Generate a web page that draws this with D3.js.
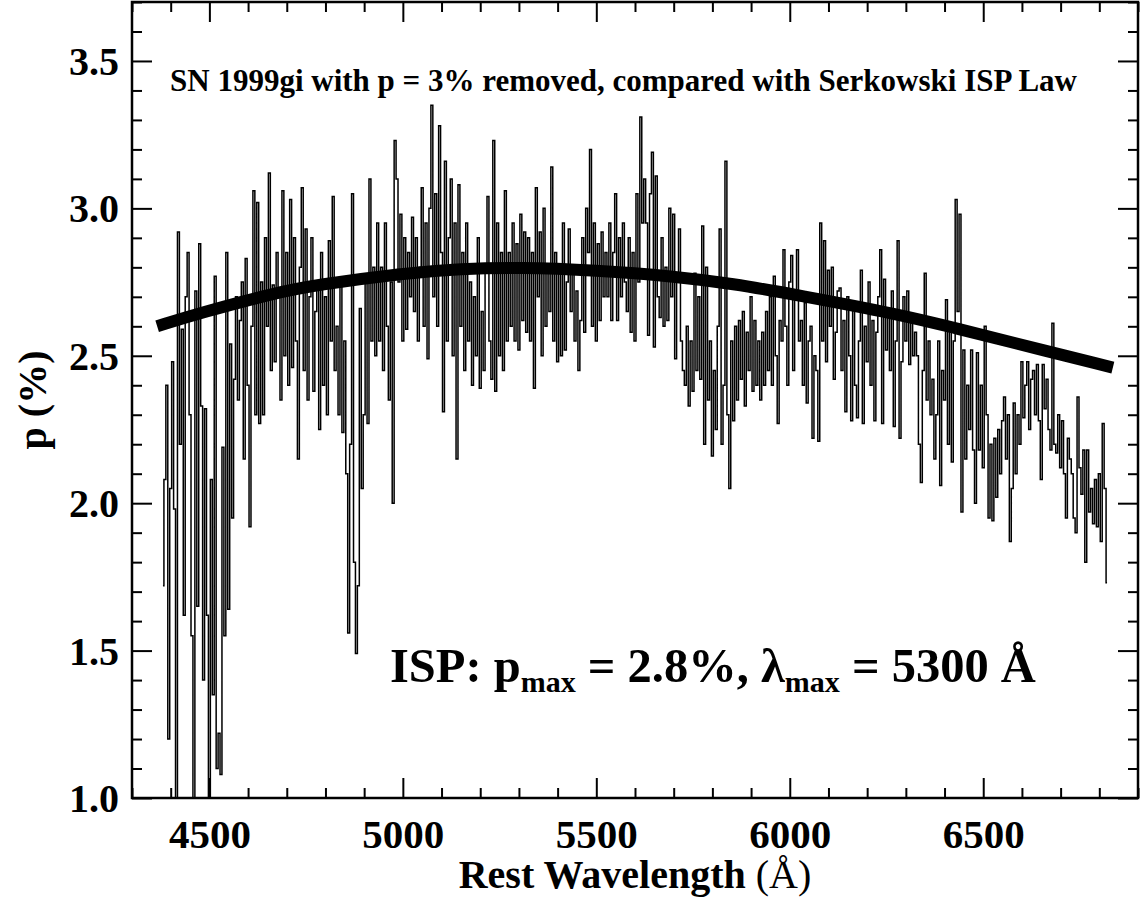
<!DOCTYPE html>
<html>
<head>
<meta charset="utf-8">
<script src="https://cdn.jsdelivr.net/npm/d3@7"></script>
<style>
  body { margin: 0; background: #fff; }
  svg text { font-family: "Liberation Serif", "Times New Roman", serif; font-weight: bold; fill: #000; }
</style>
</head>
<body>
<div id="chart"></div>
<script>
// polarization spectrum, 5 A bins (values < 1 are clipped)
var waveStart = 4380, waveStep = 5;
var polA = [ // 4380 - 4875
  1.72, 2.08, 2.40, 1.20, 2.05, 2.48, 1.98, 0.85, 2.92, 2.20,
  2.59, 1.62, 2.70, 2.85, 2.30, 1.55, 0.90, 2.72, 1.65, 2.88,
  2.33, 1.40, 2.32, 1.62, 0.92, 2.08, 1.35, 2.77, 1.10, 1.22,
  1.08, 2.19, 1.55, 2.85, 1.64, 2.54, 1.95, 2.42, 2.70, 2.35,
  2.62, 2.75, 2.15, 2.83, 2.40, 1.92, 2.60, 3.06, 2.30, 3.02,
  2.27, 2.75, 2.30, 2.90, 2.60, 3.12, 2.45, 2.74, 2.48, 2.85,
  2.70, 2.35, 3.06, 2.50, 2.85, 2.40, 3.03, 2.46, 2.90, 2.55,
  2.15, 2.80, 3.07, 2.45, 2.93, 2.35, 2.70, 2.90, 2.38, 2.65,
  2.75, 2.25, 2.85, 2.40, 2.70, 2.30, 2.89, 2.55, 3.04, 2.45,
  2.60, 2.30, 2.75, 2.24, 2.55, 2.10, 1.56, 2.20, 3.05, 1.80
];
var polB = [ // 4880 - 5375
  1.49, 1.72, 2.66, 2.05, 2.30, 2.75, 2.27, 3.10, 2.55, 2.80,
  2.50, 2.95, 2.55, 2.80, 2.45, 2.95, 2.60, 2.35, 2.75, 2.00,
  3.23, 3.10, 2.75, 2.98, 2.55, 2.90, 2.59, 2.85, 2.70, 2.97,
  2.65, 2.90, 2.55, 2.80, 3.07, 2.60, 2.95, 2.49, 3.00, 3.35,
  2.70, 3.05, 2.60, 3.28, 2.85, 2.31, 3.16, 2.55, 2.90, 3.10,
  2.50, 2.95, 2.15, 3.08, 2.60, 2.85, 2.45, 2.95, 2.55, 2.75,
  2.40, 2.70, 2.50, 2.90, 2.39, 2.65, 2.45, 2.80, 3.04, 2.55,
  2.42, 3.23, 2.38, 2.95, 2.50, 2.85, 2.45, 3.06, 2.55, 2.85,
  2.60, 2.95, 2.55, 2.88, 2.52, 2.98, 2.62, 2.92, 2.58, 2.90,
  2.55, 2.85, 2.39, 3.07, 2.70, 2.92, 2.50, 3.00, 2.60, 2.80
];
var polC = [ // 5380 - 5875
  2.65, 3.14, 2.55, 2.85, 2.48, 2.80, 2.50, 2.95, 2.52, 2.75,
  2.93, 2.65, 2.80, 2.55, 2.72, 2.45, 2.62, 2.90, 2.58, 3.00,
  2.85, 3.20, 2.60, 2.95, 2.55, 2.88, 2.62, 2.92, 2.70, 2.85,
  2.70, 2.95, 2.62, 2.85, 3.05, 2.62, 2.90, 2.70, 2.95, 2.75,
  2.65, 2.90, 2.58, 2.85, 2.55, 3.05, 2.75, 3.31, 2.95, 3.10,
  2.95, 2.57, 3.05, 3.19, 2.53, 3.11, 2.70, 2.63, 2.90, 2.60,
  2.80, 2.62, 3.00, 2.70, 2.98, 2.49, 2.75, 2.93, 2.55, 2.45,
  2.40, 2.60, 2.33, 2.55, 2.38, 2.78, 2.45, 2.70, 2.42, 2.94,
  2.20, 2.80, 2.35, 2.55, 2.16, 2.45, 2.25, 2.60, 2.93, 2.20,
  2.40, 3.16, 2.30, 2.05, 2.55, 2.28, 2.60, 2.35, 2.62, 2.42
];
var polD = [ // 5880 - 6375
  2.65, 2.33, 2.58, 2.45, 2.70, 2.38, 2.62, 2.40, 2.55, 2.35,
  2.58, 2.40, 2.65, 2.45, 2.70, 2.40, 2.77, 2.50, 2.27, 2.62,
  2.55, 2.86, 2.60, 2.40, 2.75, 2.84, 2.45, 2.70, 2.86, 2.55,
  2.62, 2.40, 2.68, 2.34, 2.55, 2.60, 2.22, 2.50, 2.45, 2.21,
  2.95, 2.55, 2.89, 2.48, 2.79, 2.60, 2.80, 2.42, 2.58, 2.72,
  2.73, 2.45, 2.62, 2.31, 2.70, 2.50, 2.28, 2.66, 2.40, 2.29,
  2.55, 2.79, 2.27, 2.60, 2.48, 2.75, 2.40, 2.62, 2.28, 2.58,
  2.70, 2.86, 2.27, 2.76, 2.52, 2.66, 2.45, 2.72, 2.26, 2.55,
  2.89, 2.22, 2.48, 2.70, 2.55, 2.72, 2.47, 2.62, 2.50, 2.58,
  2.50, 2.20, 2.07, 2.45, 2.78, 2.35, 2.55, 2.30, 2.42, 2.15
];
var polE = [ // 6380 - 6820
  2.30, 2.55, 2.06, 2.45, 2.35, 2.69, 2.20, 2.60, 2.14, 2.55,
  3.03, 2.65, 2.98, 1.97, 2.52, 2.15, 2.40, 2.25, 2.52, 2.18,
  2.00, 2.51, 2.18, 2.40, 2.12, 2.60, 2.30, 1.95, 2.20, 1.94,
  2.22, 2.02, 2.25, 2.10, 2.28, 2.36, 2.15, 2.30, 1.87, 2.05,
  2.34, 2.10, 2.30, 2.20, 2.48, 2.29, 2.40, 2.48, 2.25, 2.42,
  2.45, 2.30, 2.47, 2.28, 2.08, 2.47, 2.32, 2.42, 2.25, 2.18,
  2.61, 2.20, 2.17, 2.30, 2.12, 2.28, 2.10, 1.95, 2.22, 2.15,
  2.10, 1.95, 1.90, 2.36, 2.12, 2.03, 2.18, 1.80, 2.18, 1.97,
  2.05, 1.93, 2.08, 1.92, 2.10, 1.87, 2.27, 2.05, 1.73
];

// Serkowski ISP curve, points
var ispWave = [4365, 4475, 4675, 4775, 5000, 5150, 5300, 5500, 5700, 5850, 6025, 6285, 6425, 6545, 6835];
var ispPol  = [2.60, 2.645, 2.715, 2.74, 2.78, 2.795, 2.80, 2.79, 2.77, 2.745, 2.705, 2.64, 2.595, 2.555, 2.46];

var xMajor = [4500, 5000, 5500, 6000, 6500];
var yMajor = [1.0, 1.5, 2.0, 2.5, 3.0, 3.5];

(function () {
    "use strict";

    var width = 1143, height = 905;
    var plotLeft = 132, plotRight = 1138, plotTop = 2, plotBottom = 798;

    var pol = polA.concat(polB, polC, polD, polE);
    var spec = pol.map(function (p, i) { return { w: waveStart + i * waveStep, p: p }; });
    var isp = ispWave.map(function (w, i) { return { w: w, p: ispPol[i] }; });

    var x = d3.scaleLinear().domain([4300, 6900]).range([plotLeft, plotRight]);
    var y = d3.scaleLinear().domain([1.0, 3.7]).range([plotBottom, plotTop]);

    var svg = d3.select("#chart").append("svg")
        .attr("width", width)
        .attr("height", height);

    svg.append("clipPath").attr("id", "plotclip")
      .append("rect")
        .attr("x", plotLeft).attr("y", plotTop)
        .attr("width", plotRight - plotLeft).attr("height", plotBottom - plotTop);

    var plot = svg.append("g").attr("clip-path", "url(#plotclip)");

    plot.append("path")
        .datum(spec)
        .attr("fill", "none")
        .attr("stroke", "#000")
        .attr("stroke-width", 1.5)
        .attr("d", d3.line()
            .x(function (d) { return x(d.w); })
            .y(function (d) { return y(d.p); })
            .curve(d3.curveStep));

    plot.append("path")
        .datum(isp)
        .attr("fill", "none")
        .attr("stroke", "#000")
        .attr("stroke-width", 12)
        .attr("d", d3.line()
            .x(function (d) { return x(d.w); })
            .y(function (d) { return y(d.p); })
            .curve(d3.curveBasis));

    // axes: ticks inward on all four sides
    var xMinor = d3.range(4300, 6901, 100).filter(function (v) { return v % 500 !== 0; });
    var yMinor = d3.range(10, 38).filter(function (v) { return v % 5 !== 0; }).map(function (v) { return v / 10; });

    function addAxis(axis, tx, ty) {
        var g = svg.append("g").attr("transform", "translate(" + tx + "," + ty + ")").call(axis);
        g.select(".domain").remove();
        g.selectAll("line").attr("stroke", "#000").attr("stroke-width", 2);
        return g;
    }

    var gx = addAxis(d3.axisBottom(x).tickValues(xMajor).tickSize(-20).tickPadding(21).tickFormat(d3.format("d")), 0, plotBottom);
    addAxis(d3.axisBottom(x).tickValues(xMinor).tickSize(-10).tickFormat(""), 0, plotBottom);
    addAxis(d3.axisTop(x).tickValues(xMajor).tickSize(-20).tickFormat(""), 0, plotTop);
    addAxis(d3.axisTop(x).tickValues(xMinor).tickSize(-10).tickFormat(""), 0, plotTop);

    var gy = addAxis(d3.axisLeft(y).tickValues(yMajor).tickSize(-20).tickPadding(13).tickFormat(d3.format(".1f")), plotLeft, 0);
    addAxis(d3.axisLeft(y).tickValues(yMinor).tickSize(-10).tickFormat(""), plotLeft, 0);
    addAxis(d3.axisRight(y).tickValues(yMajor).tickSize(-20).tickFormat(""), plotRight, 0);
    addAxis(d3.axisRight(y).tickValues(yMinor).tickSize(-10).tickFormat(""), plotRight, 0);

    gx.selectAll("text").attr("font-size", 41).attr("font-family", null);
    gy.selectAll("text").attr("font-size", 40).attr("font-family", null).attr("dy", "0.34em");

    svg.append("rect")
        .attr("x", plotLeft).attr("y", plotTop)
        .attr("width", plotRight - plotLeft).attr("height", plotBottom - plotTop)
        .attr("fill", "none")
        .attr("stroke", "#000")
        .attr("stroke-width", 2.5);

    // axis titles
    var xt = svg.append("text")
        .attr("x", (plotLeft + plotRight) / 2)
        .attr("y", 888)
        .attr("text-anchor", "middle")
        .attr("font-size", 40);
    xt.append("tspan").text("Rest Wavelength ");
    xt.append("tspan").attr("font-weight", "normal").text("(\u00C5)");

    svg.append("text")
        .attr("transform", "translate(46,400) rotate(-90)")
        .attr("text-anchor", "middle")
        .attr("font-size", 40)
        .text("p (%)");

    // inner title
    svg.append("text")
        .attr("x", 170)
        .attr("y", 91)
        .attr("font-size", 31)
        .text("SN 1999gi with p = 3% removed, compared with Serkowski ISP Law");

    // ISP annotation
    var ann = svg.append("text")
        .attr("x", 390)
        .attr("y", 682)
        .attr("font-size", 48.5);
    ann.append("tspan").text("ISP: p");
    ann.append("tspan").attr("font-size", 30).attr("dy", 10).text("max");
    ann.append("tspan").attr("dy", -10).text(" = 2.8%, \u03BB");
    ann.append("tspan").attr("font-size", 30).attr("dy", 10).text("max");
    ann.append("tspan").attr("dy", -10).text(" = 5300 \u00C5");
})();
</script>
</body>
</html>
